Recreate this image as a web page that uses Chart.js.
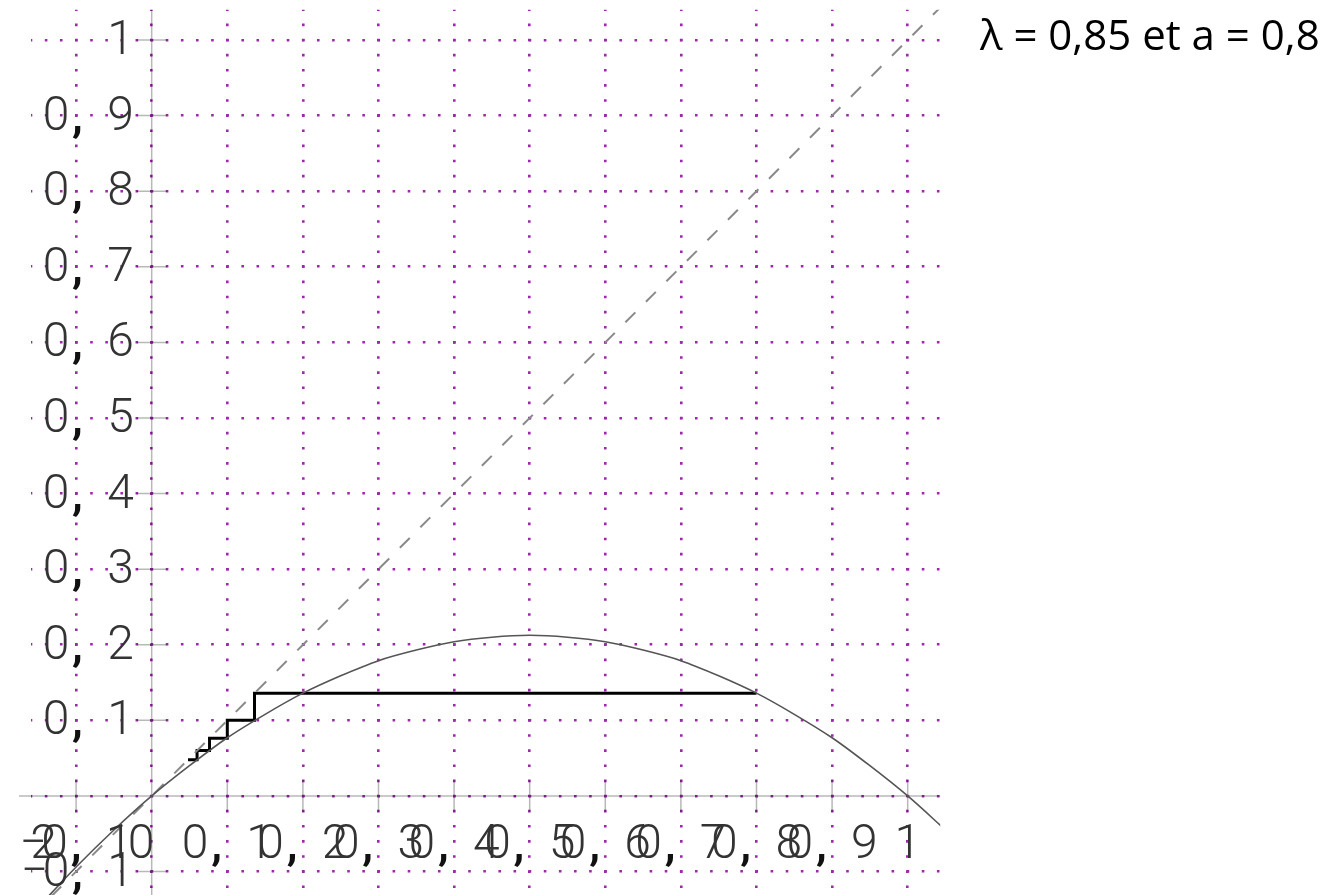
<!DOCTYPE html>
<html>
<head>
<meta charset="utf-8">
<script src="https://cdn.jsdelivr.net/npm/chart.js"></script>
<style>
  html, body { margin: 0; padding: 0; background: #fff; }
  #wrap { width: 1336px; height: 895px; }
</style>
</head>
<body>
<div id="wrap"><canvas id="cobweb" width="1336" height="895"></canvas></div>
<script>
// courbe f (pas de 0,05)
const curveX = [-0.15, -0.10, -0.05, 0, 0.05, 0.10, 0.15, 0.20, 0.25, 0.30, 0.35, 0.40, 0.45,
  0.50, 0.55, 0.60, 0.65, 0.70, 0.75, 0.80, 0.85, 0.90, 0.95, 1.00, 1.05];
const curveY = [-0.147, -0.094, -0.045, 0, 0.040, 0.077, 0.108, 0.136, 0.159, 0.179, 0.193, 0.204, 0.210,
  0.2125, 0.210, 0.204, 0.193, 0.179, 0.159, 0.136, 0.108, 0.077, 0.040, 0, -0.045];

// droite y = x
const diagX = [-0.16, 1.05];
const diagY = [-0.16, 1.05];

// escalier à partir de a = 0,8
const stairX = [0.80, 0.136, 0.136, 0.100, 0.100, 0.0765, 0.0765, 0.060, 0.060, 0.048];
const stairY = [0.136, 0.136, 0.100, 0.100, 0.0765, 0.0765, 0.060, 0.060, 0.048, 0.048];

const xTickValues = [-0.2, -0.1, 0, 0.1, 0.2, 0.3, 0.4, 0.5, 0.6, 0.7, 0.8, 0.9, 1];
const xTickLabels = ['−0, 2', '−0, 1', '0 ', '0, 1', '0, 2', '0, 3', '0, 4', '0, 5', '0, 6', '0, 7', '0, 8', '0, 9', '1'];
const yTickValues = [-0.1, 0.1, 0.2, 0.3, 0.4, 0.5, 0.6, 0.7, 0.8, 0.9, 1];
const yTickLabels = ['−0, 1', '0, 1', '0, 2', '0, 3', '0, 4', '0, 5', '0, 6', '0, 7', '0, 8', '0, 9', '1'];

const caption = 'λ = 0,85 et a = 0,8';

const toPoints = (xs, ys) => xs.map((v, i) => ({ x: v, y: ys[i] }));

const GRID = '#9a2aa8';
const AXIS = 'rgba(0,0,0,0.28)';
const LABEL_FONT = '300 48px Roboto';
const COMMA_FONT = '700 44px Roboto';
const PITCH = 21.5;
const EDGE = 19; // bord gauche visible du dessin d'origine

// texte "à chasse fixe" : un caractère par case
function drawMono(ctx, str, left, baseline) {
  for (let i = 0; i < str.length; i++) {
    const cx = left + PITCH * i + PITCH / 2;
    if (str[i] === ',') {
      ctx.font = COMMA_FONT;
      ctx.fillStyle = '#111';
      ctx.fillText(',', cx, baseline + 1);
    } else {
      ctx.font = LABEL_FONT;
      ctx.fillStyle = '#333';
      ctx.fillText(str[i], cx, baseline);
    }
  }
}

const axesPlugin = {
  id: 'axesAtZero',
  beforeDatasetsDraw(chart) {
    const { ctx, chartArea: a } = chart;
    const sx = chart.scales.x, sy = chart.scales.y;
    const x0 = sx.getPixelForValue(0), y0 = sy.getPixelForValue(0);
    ctx.save();
    ctx.beginPath();
    ctx.rect(EDGE, 0, chart.width - EDGE, chart.height);
    ctx.clip();
    ctx.strokeStyle = AXIS;
    ctx.lineWidth = 1.5;
    ctx.beginPath();
    ctx.moveTo(x0, a.top); ctx.lineTo(x0, a.bottom);
    ctx.moveTo(EDGE, y0); ctx.lineTo(a.right, y0);
    yTickValues.forEach(v => {
      const py = sy.getPixelForValue(v);
      ctx.moveTo(x0 - 15, py); ctx.lineTo(x0 + 15, py);
    });
    xTickValues.forEach(v => {
      if (v === 0) return;
      const px = sx.getPixelForValue(v);
      ctx.moveTo(px, y0 - 16); ctx.lineTo(px, y0 + 16);
    });
    ctx.stroke();
    ctx.restore();
  },
  afterDraw(chart) {
    const { ctx } = chart;
    const sx = chart.scales.x, sy = chart.scales.y;
    const x0 = sx.getPixelForValue(0), y0 = sy.getPixelForValue(0);
    ctx.save();
    ctx.beginPath();
    ctx.rect(EDGE, 0, chart.width - EDGE, chart.height);
    ctx.clip();
    ctx.textAlign = 'center';
    ctx.textBaseline = 'alphabetic';
    yTickValues.forEach((v, i) => {
      const lbl = yTickLabels[i];
      const right = x0 - 20.5;
      drawMono(ctx, lbl, right - PITCH * lbl.length, sy.getPixelForValue(v) + 14);
    });
    xTickValues.forEach((v, i) => {
      const lbl = xTickLabels[i];
      const px = sx.getPixelForValue(v);
      drawMono(ctx, lbl, px - PITCH * lbl.length / 2, y0 + 62);
    });
    ctx.font = '42px "Open Sans"';
    ctx.fillStyle = '#000';
    ctx.textAlign = 'left';
    ctx.fillText(caption, 980, 50);
    ctx.restore();
  }
};

new Chart(document.getElementById('cobweb').getContext('2d'), {
  type: 'scatter',
  data: {
    datasets: [
      { label: 'f', data: toPoints(curveX, curveY), showLine: true, borderColor: '#555', borderWidth: 1.6,
        pointRadius: 0, cubicInterpolationMode: 'monotone' },
      { label: 'y = x', data: toPoints(diagX, diagY), showLine: true, borderColor: '#8a8a8a', borderWidth: 2,
        borderDash: [14, 15], pointRadius: 0 },
      { label: 'suite', data: toPoints(stairX, stairY), showLine: true, borderColor: '#000', borderWidth: 3,
        pointRadius: 0, tension: 0 }
    ]
  },
  options: {
    responsive: false,
    animation: false,
    events: [],
    layout: { padding: { left: 30.74, right: 395.8, top: 9.76, bottom: 0 } },
    plugins: { legend: { display: false }, tooltip: { enabled: false } },
    scales: {
      x: {
        type: 'linear', min: -0.16, max: 1.043,
        ticks: { display: false, stepSize: 0.1, includeBounds: false },
        grid: { color: GRID, lineWidth: 2.6, drawTicks: false },
        border: { display: false, dash: [2.6, 12.52], dashOffset: 1.3 }
      },
      y: {
        type: 'linear', min: -0.131, max: 1.04,
        ticks: { display: false, stepSize: 0.1, includeBounds: false },
        grid: { color: GRID, lineWidth: 2.6, drawTicks: false },
        border: { display: false, dash: [2.6, 12.52], dashOffset: 1.3 }
      }
    }
  },
  plugins: [axesPlugin]
});
</script>
</body>
</html>
